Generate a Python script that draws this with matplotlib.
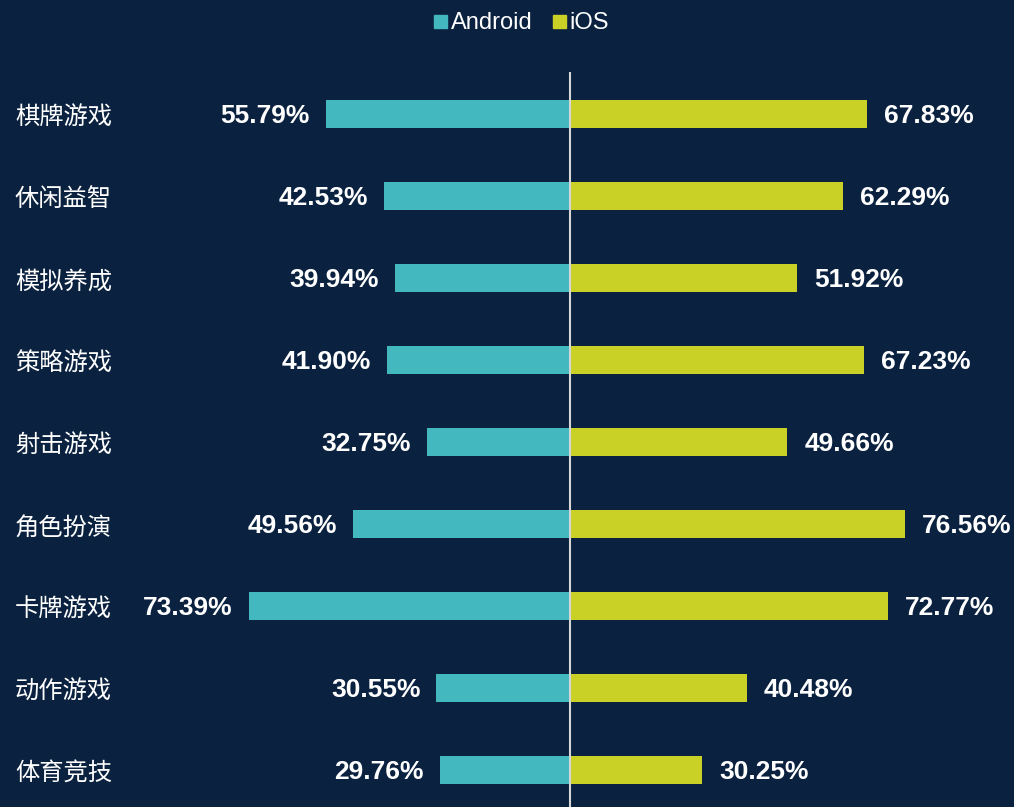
import matplotlib.pyplot as plt
from matplotlib.patches import Rectangle

plt.rcParams['font.family'] = ['Noto Sans CJK SC', 'DejaVu Sans']

categories = ['棋牌游戏', '休闲益智', '模拟养成', '策略游戏', '射击游戏',
              '角色扮演', '卡牌游戏', '动作游戏', '体育竞技']
android = [55.79, 42.53, 39.94, 41.90, 32.75, 49.56, 73.39, 30.55, 29.76]
ios = [67.83, 62.29, 51.92, 67.23, 49.66, 76.56, 72.77, 40.48, 30.25]

bg = '#0a2240'
c_android = '#43b8be'
c_ios = '#c9d126'

W, H = 1014, 807
fig = plt.figure(figsize=(W / 100, H / 100), dpi=100, facecolor=bg)
ax = fig.add_axes([0, 0, 1, 1], facecolor=bg)

# pixel mapping: center at x=570, 4.375 px per percent; rows at 114 + 82*i
ppu = 4.375
ax.set_xlim(-570 / ppu, (W - 570) / ppu)
ax.set_ylim((H - 114) / 82, -114 / 82)
ax.axis('off')

y = list(range(len(categories)))
ax.barh(y, [-v for v in android], height=0.34, color=c_android)
ax.barh(y, ios, height=0.34, color=c_ios)

ax.plot([0, 0], [(73 - 114) / 82, (H - 114) / 82], color='#d6d6d6', lw=1.5)

lab_font = dict(family=['Liberation Sans', 'DejaVu Sans'], fontsize=19,
                fontweight='bold', color='white', va='center')
for i, (a, b) in enumerate(zip(android, ios)):
    ax.text(-a - 16 / ppu, i + 0.02, f'{a:.2f}%', ha='right', **lab_font)
    ax.text(b + 17 / ppu, i + 0.02, f'{b:.2f}%', ha='left', **lab_font)
    ax.text(-555 / ppu, i + 0.04, categories[i], ha='left', va='center',
            fontsize=17.5, color='white')

# legend
leg_font = dict(family=['Liberation Sans', 'DejaVu Sans'], fontsize=17,
                color='white', va='center')
fig.patches.append(Rectangle((434 / W, 1 - 28 / H), 13 / W, 13 / H,
                             transform=fig.transFigure, color=c_android))
fig.text(451 / W, 1 - 23 / H, 'Android', ha='left', **leg_font)
fig.patches.append(Rectangle((553 / W, 1 - 28 / H), 13 / W, 13 / H,
                             transform=fig.transFigure, color=c_ios))
fig.text(569 / W, 1 - 23 / H, 'iOS', ha='left', **leg_font)

fig.savefig('out.png', dpi=100, facecolor=bg)
